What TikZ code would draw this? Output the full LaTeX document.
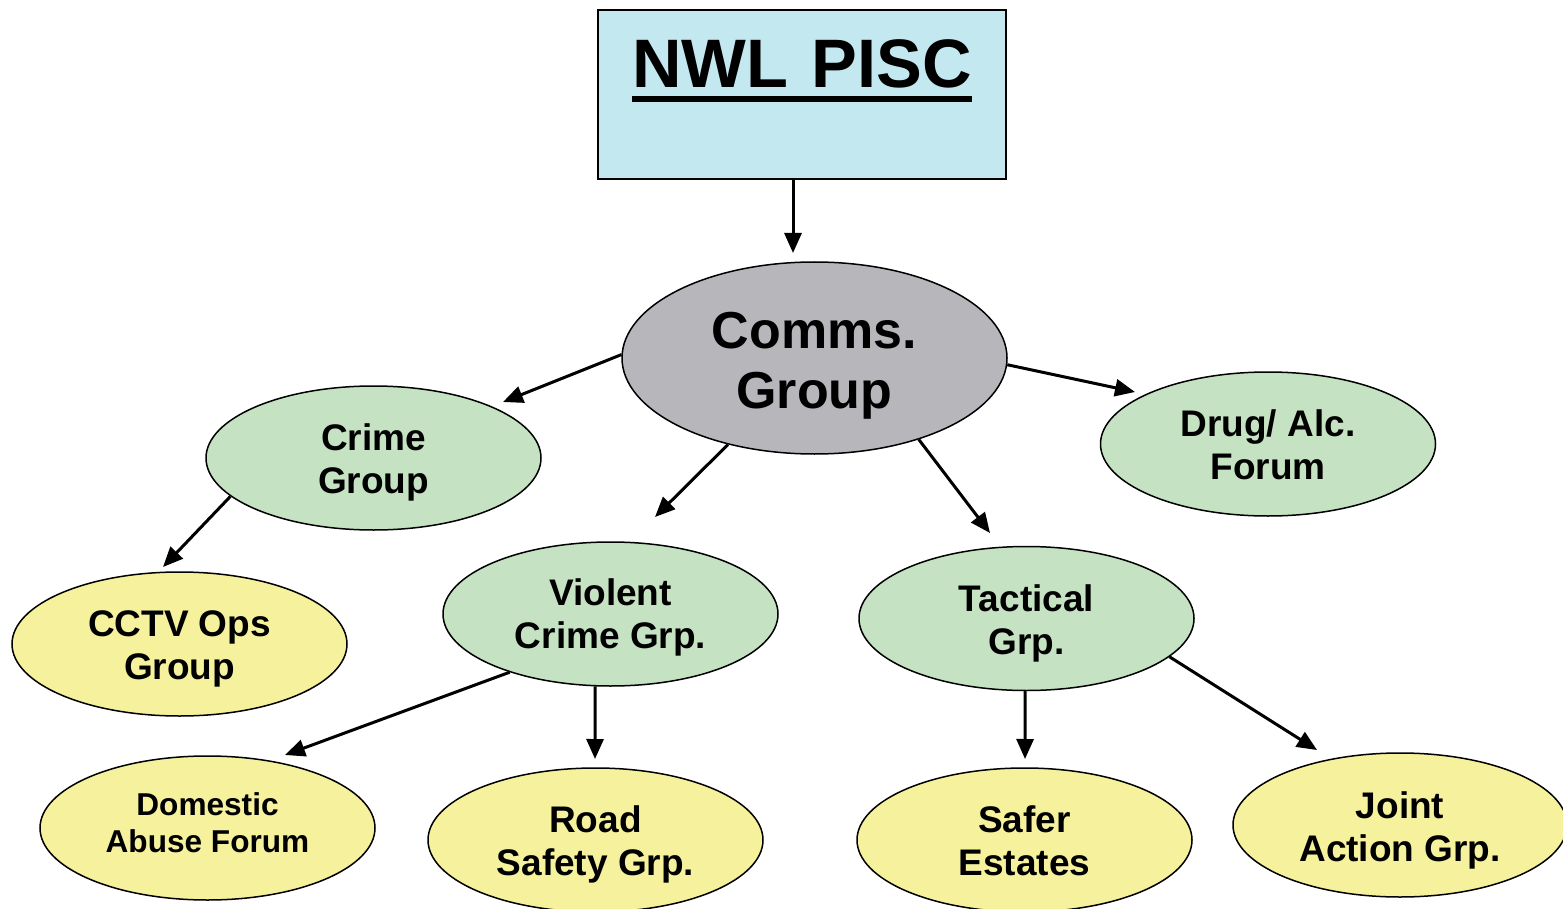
\documentclass[tikz,border=0pt]{standalone}
\usepackage{fontspec}
\setmainfont{Liberation Sans}
\usetikzlibrary{shapes.geometric,arrows.meta}
\definecolor{boxcyan}{HTML}{C3E8EF}
\definecolor{commsgray}{HTML}{B7B7BB}
\definecolor{grpgreen}{HTML}{C5E2C2}
\definecolor{grpyellow}{HTML}{F5F19C}
\newcommand\thickul[1]{\setbox0\hbox{#1}\rlap{\rule[-7pt]{\wd0}{3pt}}\box0}
\tikzset{
  bubble/.style={ellipse, draw=black, line width=0.75pt, inner sep=0pt,
    minimum width=167.5pt, minimum height=72pt, align=center,
    font=\bfseries\fontsize{18.5}{21.5}\selectfont,
    text height=39.2pt, text depth=4pt},
  greenbub/.style={bubble, fill=grpgreen},
  yellowbub/.style={bubble, fill=grpyellow},
  conn/.style={line width=1.5pt, -{Triangle[length=10pt,width=8.5pt]}},
}
\begin{document}
\begin{tikzpicture}[x=0.5pt,y=-0.5pt]
\useasboundingbox (0,0) rectangle (1563,909);
% top box
\node[draw=black, line width=0.75pt, fill=boxcyan, inner sep=0pt,
  text width=204pt, text height=39pt, text depth=45.5pt, align=center,
  font=\bfseries\fontsize{34.3}{40}\selectfont] (box) at (802,94.5) {\thickul{NWL PISC}};
% comms
\node[bubble, fill=commsgray, minimum width=192.5pt, minimum height=96pt,
  font=\bfseries\fontsize{26}{30}\selectfont,
  text height=56.6pt, text depth=6pt] (comms) at (814.5,358) {Comms.\\Group};
% level 2
\node[greenbub] (crime) at (373.5,458) {Crime\\Group};
\node[greenbub] (drug) at (1268,444) {Drug/ Alc.\\Forum};
\node[greenbub, text height=38.2pt] (violent) at (610.5,614) {Violent\\Crime Grp.};
\node[greenbub, text height=39.7pt] (tactical) at (1026.5,618.5) {Tactical\\Grp.};
% level 3
\node[yellowbub] (cctv) at (179.5,644) {CCTV Ops\\Group};
\node[yellowbub, font=\bfseries\fontsize{15.8}{18.5}\selectfont,
  text height=28.3pt, text depth=4pt] (domestic) at (207.5,828) {Domestic\\Abuse Forum};
\node[yellowbub] (road) at (595.5,840) {Road\\Safety Grp.};
\node[yellowbub] (safer) at (1024.5,840) {Safer\\Estates};
\node[yellowbub, minimum width=167pt, text height=40.2pt] (joint) at (1400,825) {Joint\\Action Grp.};
% arrow ends
\coordinate (e1) at (793,253);
\coordinate (e2) at (503,402);
\coordinate (e3) at (655,517);
\coordinate (e4) at (990,533);
\coordinate (e5) at (1135,392);
\coordinate (e6) at (163,567);
\coordinate (e7) at (285,755);
\coordinate (e8) at (595,759);
\coordinate (e9) at (1025,759);
\coordinate (e10) at (1317,750);
% connectors
\draw[conn] ([xshift=-4.5pt]box.south) -- (e1);
\draw[conn] (comms.179) -- (e2);
\draw[conn] (comms.225) -- (e3);
\draw[conn] (comms.322.5) -- (e4);
\draw[conn] (comms.358) -- (e5);
\draw[conn] (crime.195.5) -- (e6);
\draw[conn] (violent.210.9) -- (e7);
\draw[conn] (violent.258) -- (e8);
\draw[conn] (tactical.269) -- (e9);
\draw[conn] (tactical.345.6) -- (e10);
\end{tikzpicture}
\end{document}
